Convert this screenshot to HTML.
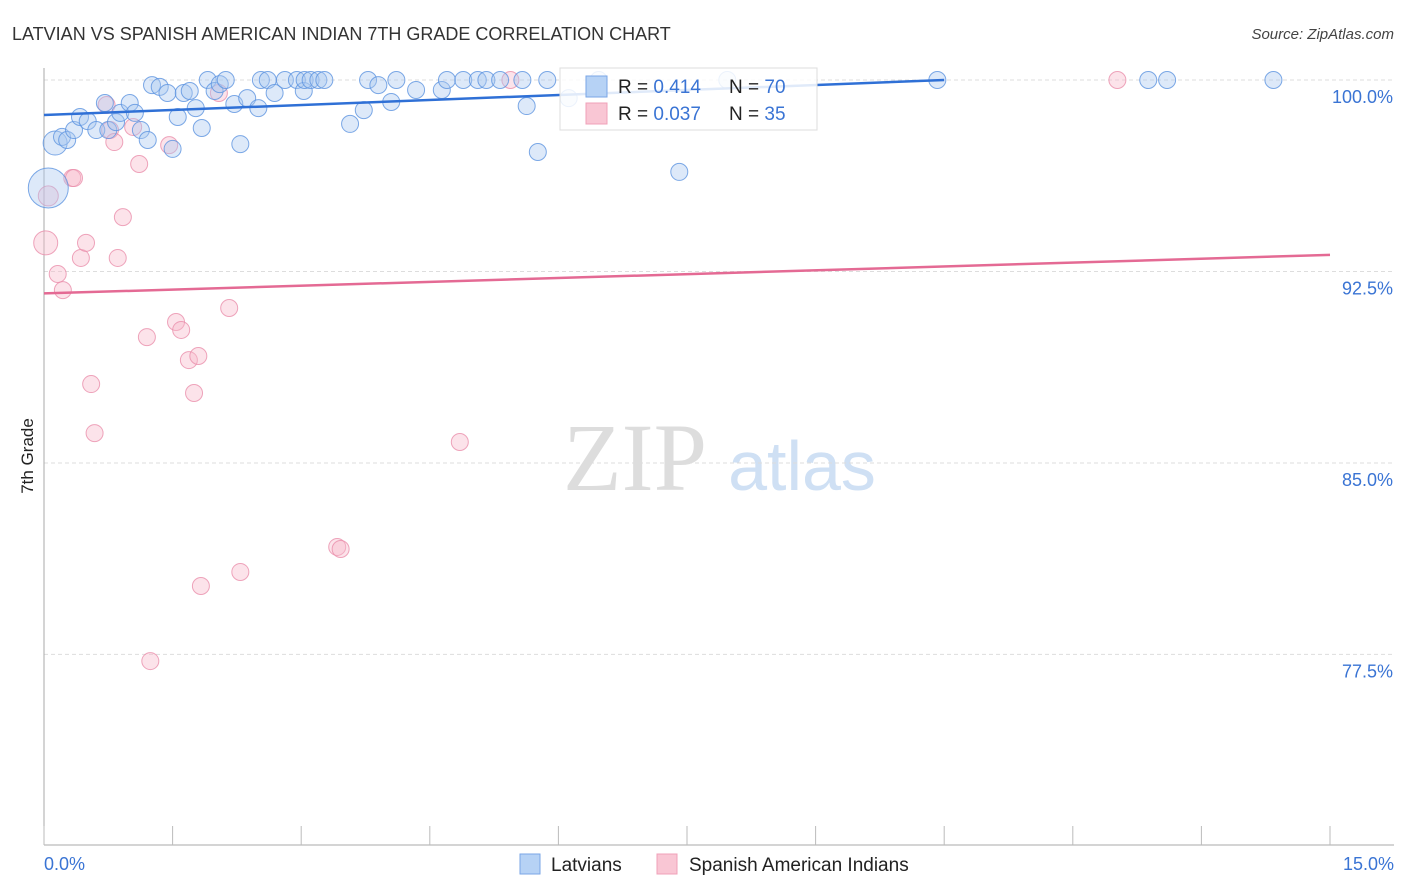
<!DOCTYPE html>
<html><head><meta charset="utf-8">
<style>
body{margin:0;background:#fff;width:1406px;height:892px;overflow:hidden;font-family:"Liberation Sans",sans-serif;}
svg{position:absolute;left:0;top:0}
</style></head><body>
<svg id="chart" width="1406" height="892">
<text x="12" y="40" font-size="18" fill="#333">LATVIAN VS SPANISH AMERICAN INDIAN 7TH GRADE CORRELATION CHART</text>
<text x="1394" y="39" font-size="15" fill="#444" font-style="italic" text-anchor="end">Source: ZipAtlas.com</text>
<text x="33" y="456" font-size="17" fill="#222" text-anchor="middle" transform="rotate(-90 33 456)">7th Grade</text>
<g>
<text x="635" y="490" font-size="96" fill="#ddd" font-family="Liberation Serif,serif" text-anchor="middle">ZIP</text>
<text x="802" y="490" font-size="70" fill="#cfe0f4" text-anchor="middle">atlas</text>
</g>
<g id="grid"></g>
<g id="axes"></g>
<g id="pinkpts"></g>
<g id="bluepts"></g>
<g id="lines"></g>
<g>
<rect x="560" y="68" width="257" height="62" fill="#fff" fill-opacity="0.85" stroke="#ddd"/>
<rect x="586" y="76" width="21" height="21" fill="#b6d2f5" stroke="#7aa6e6"/>
<rect x="586" y="103" width="21" height="21" fill="#f9c6d4" stroke="#f0a0b8"/>
<text x="618" y="93" font-size="19" fill="#222">R = <tspan fill="#3a74d4">0.414</tspan></text>
<text x="729" y="93" font-size="19" fill="#222">N = <tspan fill="#3a74d4">70</tspan></text>
<text x="618" y="120" font-size="19" fill="#222">R = <tspan fill="#3a74d4">0.037</tspan></text>
<text x="729" y="120" font-size="19" fill="#222">N = <tspan fill="#3a74d4">35</tspan></text>
</g>
<g>
<rect x="520" y="854" width="20" height="20" fill="#b6d2f5" stroke="#7aa6e6"/>
<text x="551" y="871" font-size="19" fill="#222">Latvians</text>
<rect x="657" y="854" width="20" height="20" fill="#f9c6d4" stroke="#f0a0b8"/>
<text x="689" y="871" font-size="19" fill="#222">Spanish American Indians</text>
</g>
</svg>
<script>
const yTicks=[100,92.5,85,77.5];
const xTickLabels=["0.0%","15.0%"];
const blueX=[0.13,0.05,0.21,0.27,0.35,0.42,0.51,0.61,0.71,0.75,0.84,0.89,1.00,1.06,1.13,1.21,1.26,1.35,1.44,1.50,1.56,1.63,1.70,1.77,1.84,1.91,1.99,2.05,2.12,2.22,2.29,2.37,2.50,2.53,2.61,2.69,2.81,2.95,3.03,3.04,3.11,3.20,3.27,3.57,3.73,3.78,3.90,4.05,4.11,4.34,4.64,4.70,4.89,5.06,5.16,5.32,5.58,5.63,5.76,5.87,6.12,6.47,7.41,7.97,10.42,12.88,13.10,14.34];
const blueY=[97.53,95.77,97.77,97.65,98.04,98.55,98.39,98.04,99.10,98.04,98.35,98.71,99.10,98.71,98.04,97.65,99.80,99.73,99.49,97.30,98.55,99.49,99.57,98.90,98.12,100,99.57,99.84,100,99.06,97.49,99.29,98.90,100,100,99.49,100,100,99.57,100,100,100,100,98.28,98.82,100,99.80,99.14,100,99.61,99.61,100,100,100,100,100,100,98.98,97.18,100,99.29,100,96.40,100,100,100,100,100];
const blueR=[12,20];
const pinkX=[0.05,0.02,0.16,0.22,0.33,0.35,0.43,0.49,0.55,0.59,0.73,0.77,0.82,0.86,0.92,1.04,1.11,1.20,1.24,1.46,1.54,1.60,1.69,1.75,1.80,1.83,2.04,2.16,2.29,3.42,3.46,4.85,5.44,12.52];
const pinkY=[95.46,93.62,92.40,91.77,96.16,96.16,93.03,93.62,88.09,86.17,99.02,98.04,97.57,93.03,94.63,98.16,96.71,89.93,77.24,97.45,90.52,90.21,89.03,87.74,89.19,80.18,99.49,91.07,80.73,81.71,81.63,85.82,100,100];
const pinkR=[10,12];
const blueFit=[98.63,100];const blueFitX=[0,10.5];
const pinkFit=[91.64,93.15];const pinkFitX=[0,15];
const NS="http://www.w3.org/2000/svg";
function sx(v){return 44+v/15*1286;}
function sy(v){return 80+(100-v)*25.53;}
function mk(tag,attrs,parent){const e=document.createElementNS(NS,tag);for(const k in attrs)e.setAttribute(k,attrs[k]);parent.appendChild(e);return e;}
const grid=document.getElementById('grid'),axes=document.getElementById('axes');
yTicks.forEach((t,i)=>{
 const l=mk('line',{x1:44,x2:1394,y1:sy(t),y2:sy(t),stroke:'#ddd','stroke-dasharray':'4 3'},grid);
 
 
 const tx=mk('text',{x:1393,y:sy(t)+23,'font-size':18,fill:'#3a74d4','text-anchor':'end'},axes);
 tx.textContent=t.toFixed(1)+'%';
 
 
});
const al=mk('line',{x1:44,x2:44,y1:68,y2:845,stroke:'#aaa'},axes);


const xl=mk('line',{x1:44,x2:1394,y1:845,y2:845,stroke:'#aaa'},axes);


for(let i=0;i<=10;i++){
 const t=mk('line',{x1:sx(i*1.5),x2:sx(i*1.5),y1:826,y2:845,stroke:'#bbb'},axes);
 
 
}
const x0=mk('text',{x:44,y:870,'font-size':18,fill:'#3a74d4'},axes);x0.textContent=xTickLabels[0];


const x1=mk('text',{x:1394,y:870,'font-size':18,fill:'#3a74d4','text-anchor':'end'},axes);x1.textContent=xTickLabels[1];


function pts(X,Y,R,g,fill,stroke,name){
 X.forEach((x,i)=>{
  const c=mk('circle',{cx:sx(x),cy:sy(Y[i]),r:R[i]||8.5,fill:fill,'fill-opacity':0.4,stroke:stroke,'stroke-opacity':0.8,'stroke-width':1},g);
  
  
 });
}
pts(pinkX,pinkY,pinkR,document.getElementById('pinkpts'),'#f7b9cb','#ea8fab','spanish-point');
pts(blueX,blueY,blueR,document.getElementById('bluepts'),'#a9c9f1','#5d93e0','latvian-point');
const lg=document.getElementById('lines');
const bl=mk('line',{x1:sx(blueFitX[0]),y1:sy(blueFit[0]),x2:sx(blueFitX[1]),y2:sy(blueFit[1]),stroke:'#2f70d6','stroke-width':2.5},lg);


const pl=mk('line',{x1:sx(pinkFitX[0]),y1:sy(pinkFit[0]),x2:sx(pinkFitX[1]),y2:sy(pinkFit[1]),stroke:'#e46a94','stroke-width':2.5},lg);


</script>
</body></html>
